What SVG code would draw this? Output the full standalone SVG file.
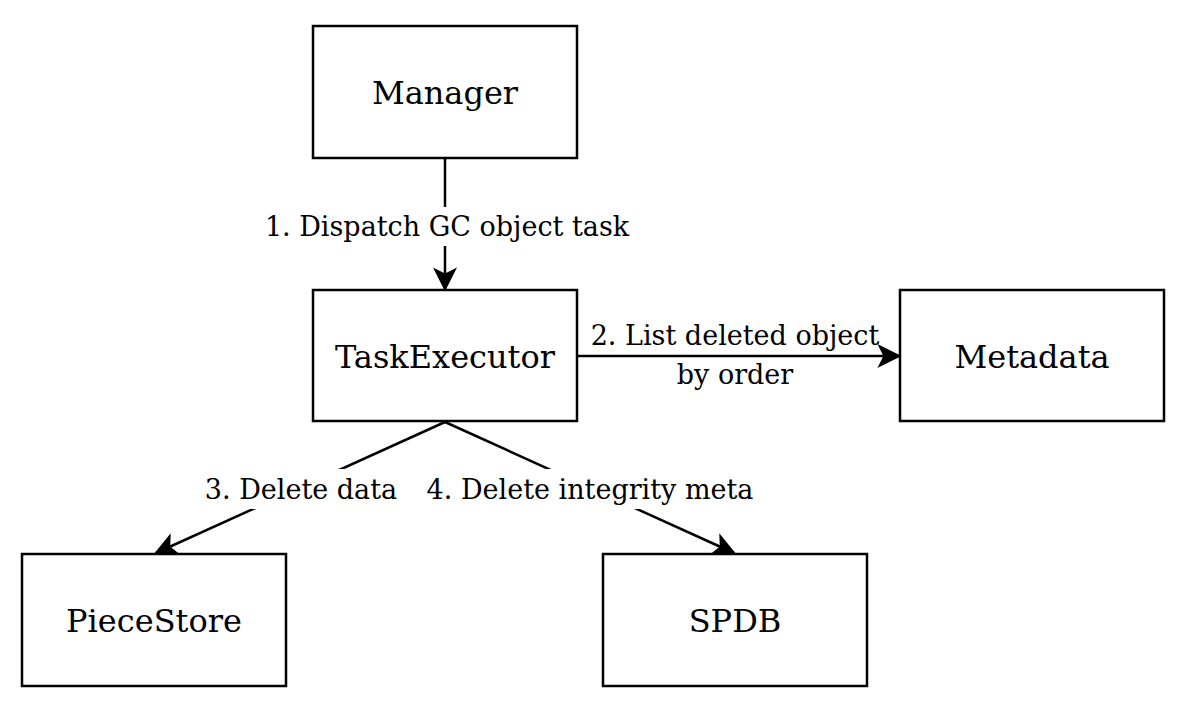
<svg xmlns="http://www.w3.org/2000/svg" width="1186" height="706" viewBox="0 0 1186 706">
<defs>
<style>
.box{fill:#fff;stroke:#000;stroke-width:2.5}
.t{font-family:"DejaVu Serif","Liberation Serif",serif;font-size:32px;fill:#000;text-anchor:middle}
.l{font-family:"DejaVu Serif","Liberation Serif",serif;font-size:27px;fill:#000;text-anchor:middle}
.c{fill:none;stroke:#000;stroke-width:2.5}
.bg{fill:#fff}
</style>
<marker id="ah2" viewBox="0 0 10 10" refX="9" refY="5" markerWidth="24" markerHeight="24" markerUnits="userSpaceOnUse" orient="auto">
<path d="M0,0 L10,5 L0,10 L2.5,5 Z" fill="#000"/>
</marker>
</defs>
<rect width="1186" height="706" fill="#fff"/>
<g id="connectors">
<line class="c" x1="445" y1="158" x2="445" y2="289" marker-end="url(#ah2)"/>
<line class="c" x1="577" y1="356" x2="899" y2="356" marker-end="url(#ah2)"/>
<line class="c" x1="445" y1="422" x2="156" y2="553" marker-end="url(#ah2)"/>
<line class="c" x1="445" y1="422" x2="734" y2="553" marker-end="url(#ah2)"/>
<rect class="bg" x="262" y="207" width="372" height="39"/>
<text class="l" x="447" y="236">1. Dispatch GC object task</text>
<text class="l" x="735" y="345">2. List deleted object</text>
<text class="l" x="735" y="384">by order</text>
<rect class="bg" x="200" y="469" width="560" height="40"/>
<text class="l" x="301" y="499">3. Delete data</text>
<text class="l" x="590" y="499">4. Delete integrity meta</text>
</g>
<g id="manager"><rect class="box" x="313" y="26" width="264" height="132"/><text class="t" x="445" y="104">Manager</text></g>
<g id="taskexecutor"><rect class="box" x="313" y="290" width="264" height="131"/><text class="t" x="445" y="368">TaskExecutor</text></g>
<g id="metadata"><rect class="box" x="900" y="290" width="264" height="131"/><text class="t" x="1032" y="368">Metadata</text></g>
<g id="piecestore"><rect class="box" x="22" y="554" width="264" height="132"/><text class="t" x="154" y="632">PieceStore</text></g>
<g id="spdb"><rect class="box" x="603" y="554" width="264" height="132"/><text class="t" x="735" y="632">SPDB</text></g>
</svg>
